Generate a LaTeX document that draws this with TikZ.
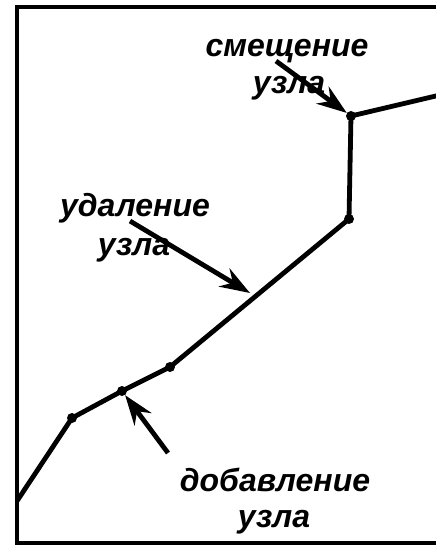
\documentclass[tikz,border=0pt]{standalone}
\usepackage{fontspec}
\setmainfont{Liberation Sans}
\usetikzlibrary{arrows.meta}
\tikzset{
  lbl/.style={font=\fontsize{32}{38}\selectfont\bfseries\itshape, inner sep=0pt, anchor=base},
  curve/.style={line width=4.8pt, line join=round},
  pnt/.style={circle, fill=black, inner sep=0pt, minimum size=10pt},
  pointer/.style={line width=4.8pt, -{Stealth[length=30pt,width=21pt,inset=10pt]}},
  frame/.style={line width=4.2pt}
}
\begin{document}
\begin{tikzpicture}[x=1pt,y=-1pt]
\useasboundingbox (0,0) rectangle (436,547);
\clip (0,0) rectangle (436,547);
\draw[frame] (17,7) rectangle (450,543);
% polyline nodes
\coordinate (s) at (17,501);
\node[pnt] (p1) at (72,418) {};
\node[pnt] (p2) at (122,391) {};
\node[pnt] (p3) at (170,367) {};
\node[pnt] (p4) at (349,219) {};
\node[pnt] (p5) at (351,116) {};
\coordinate (e) at (440,95);
\draw[curve] (s) -- (p1.center) -- (p2.center) -- (p3.center) -- (p4.center) -- (p5.center) -- (e);
% labels
\node[lbl] (a1) at (287,56) {смещение};
\node[lbl] (a2) at (289,93) {узла};
\node[lbl] (b1) at (135,216) {удаление};
\node[lbl] (b2) at (134,255) {узла};
\node[lbl] (c1) at (275,491) {добавление};
\node[lbl] (c2) at (274,527) {узла};
% arrows
\coordinate (at) at (276,61);
\coordinate (bt) at (130,221);
\coordinate (ct) at (168,453);
\coordinate (mid) at (250,293);
\draw[pointer] (at) -- (p5);
\draw[pointer] (bt) -- (mid);
\draw[pointer] (ct) -- (p2);
\end{tikzpicture}
\end{document}
